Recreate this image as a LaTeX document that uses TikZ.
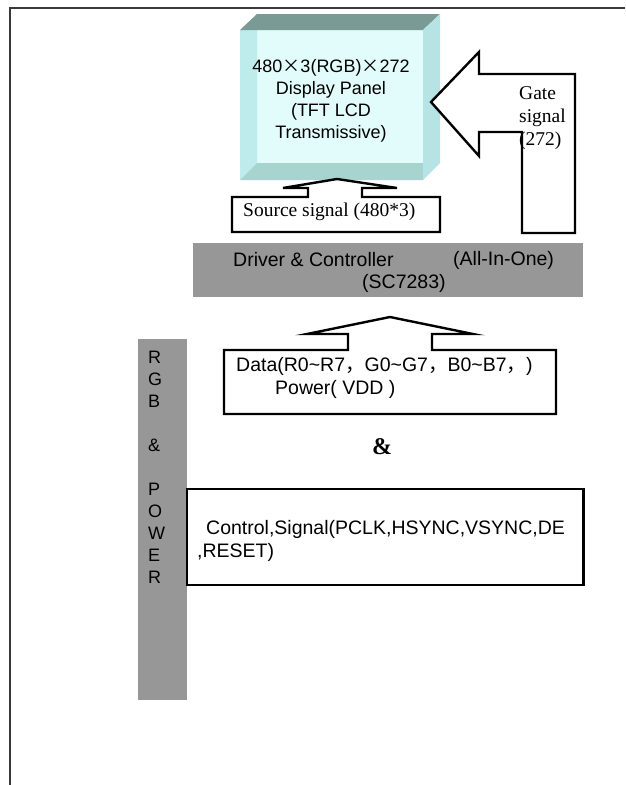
\documentclass[tikz,border=0pt]{standalone}
\usepackage{fontspec}
\setmainfont{Liberation Serif}
\setsansfont{Liberation Sans}
\newfontfamily\cjk{Noto Sans CJK SC}
\usetikzlibrary{
    positioning,
    calc
}
\definecolor{PainelFrente}{HTML}{E2FBFB}
\definecolor{PainelLado}{HTML}{B6E4E4}
\definecolor{PainelBorda}{HTML}{BEEBEB}
\definecolor{PainelBase}{HTML}{A8D4D0}
\definecolor{PainelTopo}{HTML}{7A9A96}
\definecolor{CinzaBarra}{HTML}{979797}
\definecolor{Moldura}{HTML}{3A3A3A}

\begin{document}
\begin{tikzpicture}[
    x=1pt, y=-1pt,
    blocoseta/.style={draw=black, line width=2.4pt, fill=white, line join=miter},
    textosans/.style={font=\sffamily\fontsize{19.5}{23}\selectfont, inner sep=0pt, align=left},
    textoserif/.style={font=\rmfamily\fontsize{19.5}{23}\selectfont, inner sep=0pt, align=left}
]
    \useasboundingbox (0,0) rectangle (625,785);

    % moldura
    \draw[Moldura, line width=2pt] (10,785) -- (10,8) -- (625,8);

    % painel
    \fill[PainelFrente] (240,30) rectangle (423,180);
    \fill[PainelBorda] (240,30) -- (257,30) -- (257,163) -- (240,180) -- cycle;
    \fill[PainelBase] (240,180) -- (257,163) -- (423,163) -- (423,180) -- cycle;
    \fill[PainelTopo] (240,30) -- (257,14) -- (440,14) -- (423,30) -- cycle;
    \fill[PainelLado] (423,30) -- (440,14) -- (440,163) -- (423,180) -- cycle;
    \node[
        font=\sffamily\fontsize{18}{22}\selectfont,
        align=center,
        inner sep=0pt
    ] (painel) at (331,101) {
        480{\cjk ×}3(RGB){\cjk ×}272\\
        Display Panel\\
        (TFT LCD\\
        Transmissive)
    };

    % sinal de gate
    \draw[blocoseta]
        (431,102) -- (479,52) -- (479,74) -- (575,74) -- (575,233)
        -- (522,233) -- (522,132) -- (479,132) -- (479,156) -- cycle;
    \node[textoserif, anchor=west] (gate) at (519,118) {
        Gate\\
        signal\\
        (272)
    };

    % sinal de source
    \draw[blocoseta]
        (232,197) -- (308,197) -- (308,188) -- (283,188) -- (337,179)
        -- (397,188) -- (362,188) -- (362,197) -- (440,197) -- (440,232)
        -- (232,232) -- cycle;
    \node[textoserif, anchor=west] (source) at (243,212) {Source signal (480*3)};

    % driver
    \node[
        fill=CinzaBarra,
        minimum width=390pt,
        minimum height=54pt,
        inner sep=0pt
    ] (driver) at (388,270) {};
    \node[textosans, anchor=west] (drvnome) at (233,260) {Driver \& Controller};
    \node[textosans, anchor=west] (drvtipo) at (453,260) {(All-In-One)};
    \node[textosans, anchor=west] (drvchip) at (362,283) {(SC7283)};

    % dados e power
    \draw[blocoseta]
        (224,350) -- (348,350) -- (348,334) -- (307,334) -- (390,317)
        -- (473,334) -- (432,334) -- (432,350) -- (556,350) -- (556,414)
        -- (224,414) -- cycle;
    \node[textosans, anchor=west] (dados) at (236,378) {
        Data(R0\textasciitilde R7{\cjk ，}G0\textasciitilde G7{\cjk ，}B0\textasciitilde B7{\cjk ，})\\
        \hspace*{39pt}Power( VDD )
    };

    \node[font=\rmfamily\bfseries\fontsize{24}{24}\selectfont, inner sep=0pt] (ecomercial) at (382,447) {\&};

    % barra RGB & POWER
    \node[
        fill=CinzaBarra,
        minimum width=49pt,
        minimum height=361pt,
        inner sep=0pt
    ] (barra) at (162.5,519.5) {};
    \node[font=\sffamily\fontsize{18}{22}\selectfont, inner sep=0pt, align=left, anchor=west] (letras) at (148,467) {
        R\\G\\B\\\mbox{}\\\&\\\mbox{}\\P\\O\\W\\E\\R
    };

    % controle
    \draw[draw=black, line width=1.6pt, fill=white] (187,489) rectangle (583,585);
    \draw[black, line width=3pt] (583,488) -- (583,586);
    \node[textosans, anchor=west] (controle) at (197,541) {
        \hspace*{9pt}Control,Signal(PCLK,HSYNC,VSYNC,DE\\
        ,RESET)
    };

\end{tikzpicture}
\end{document}
